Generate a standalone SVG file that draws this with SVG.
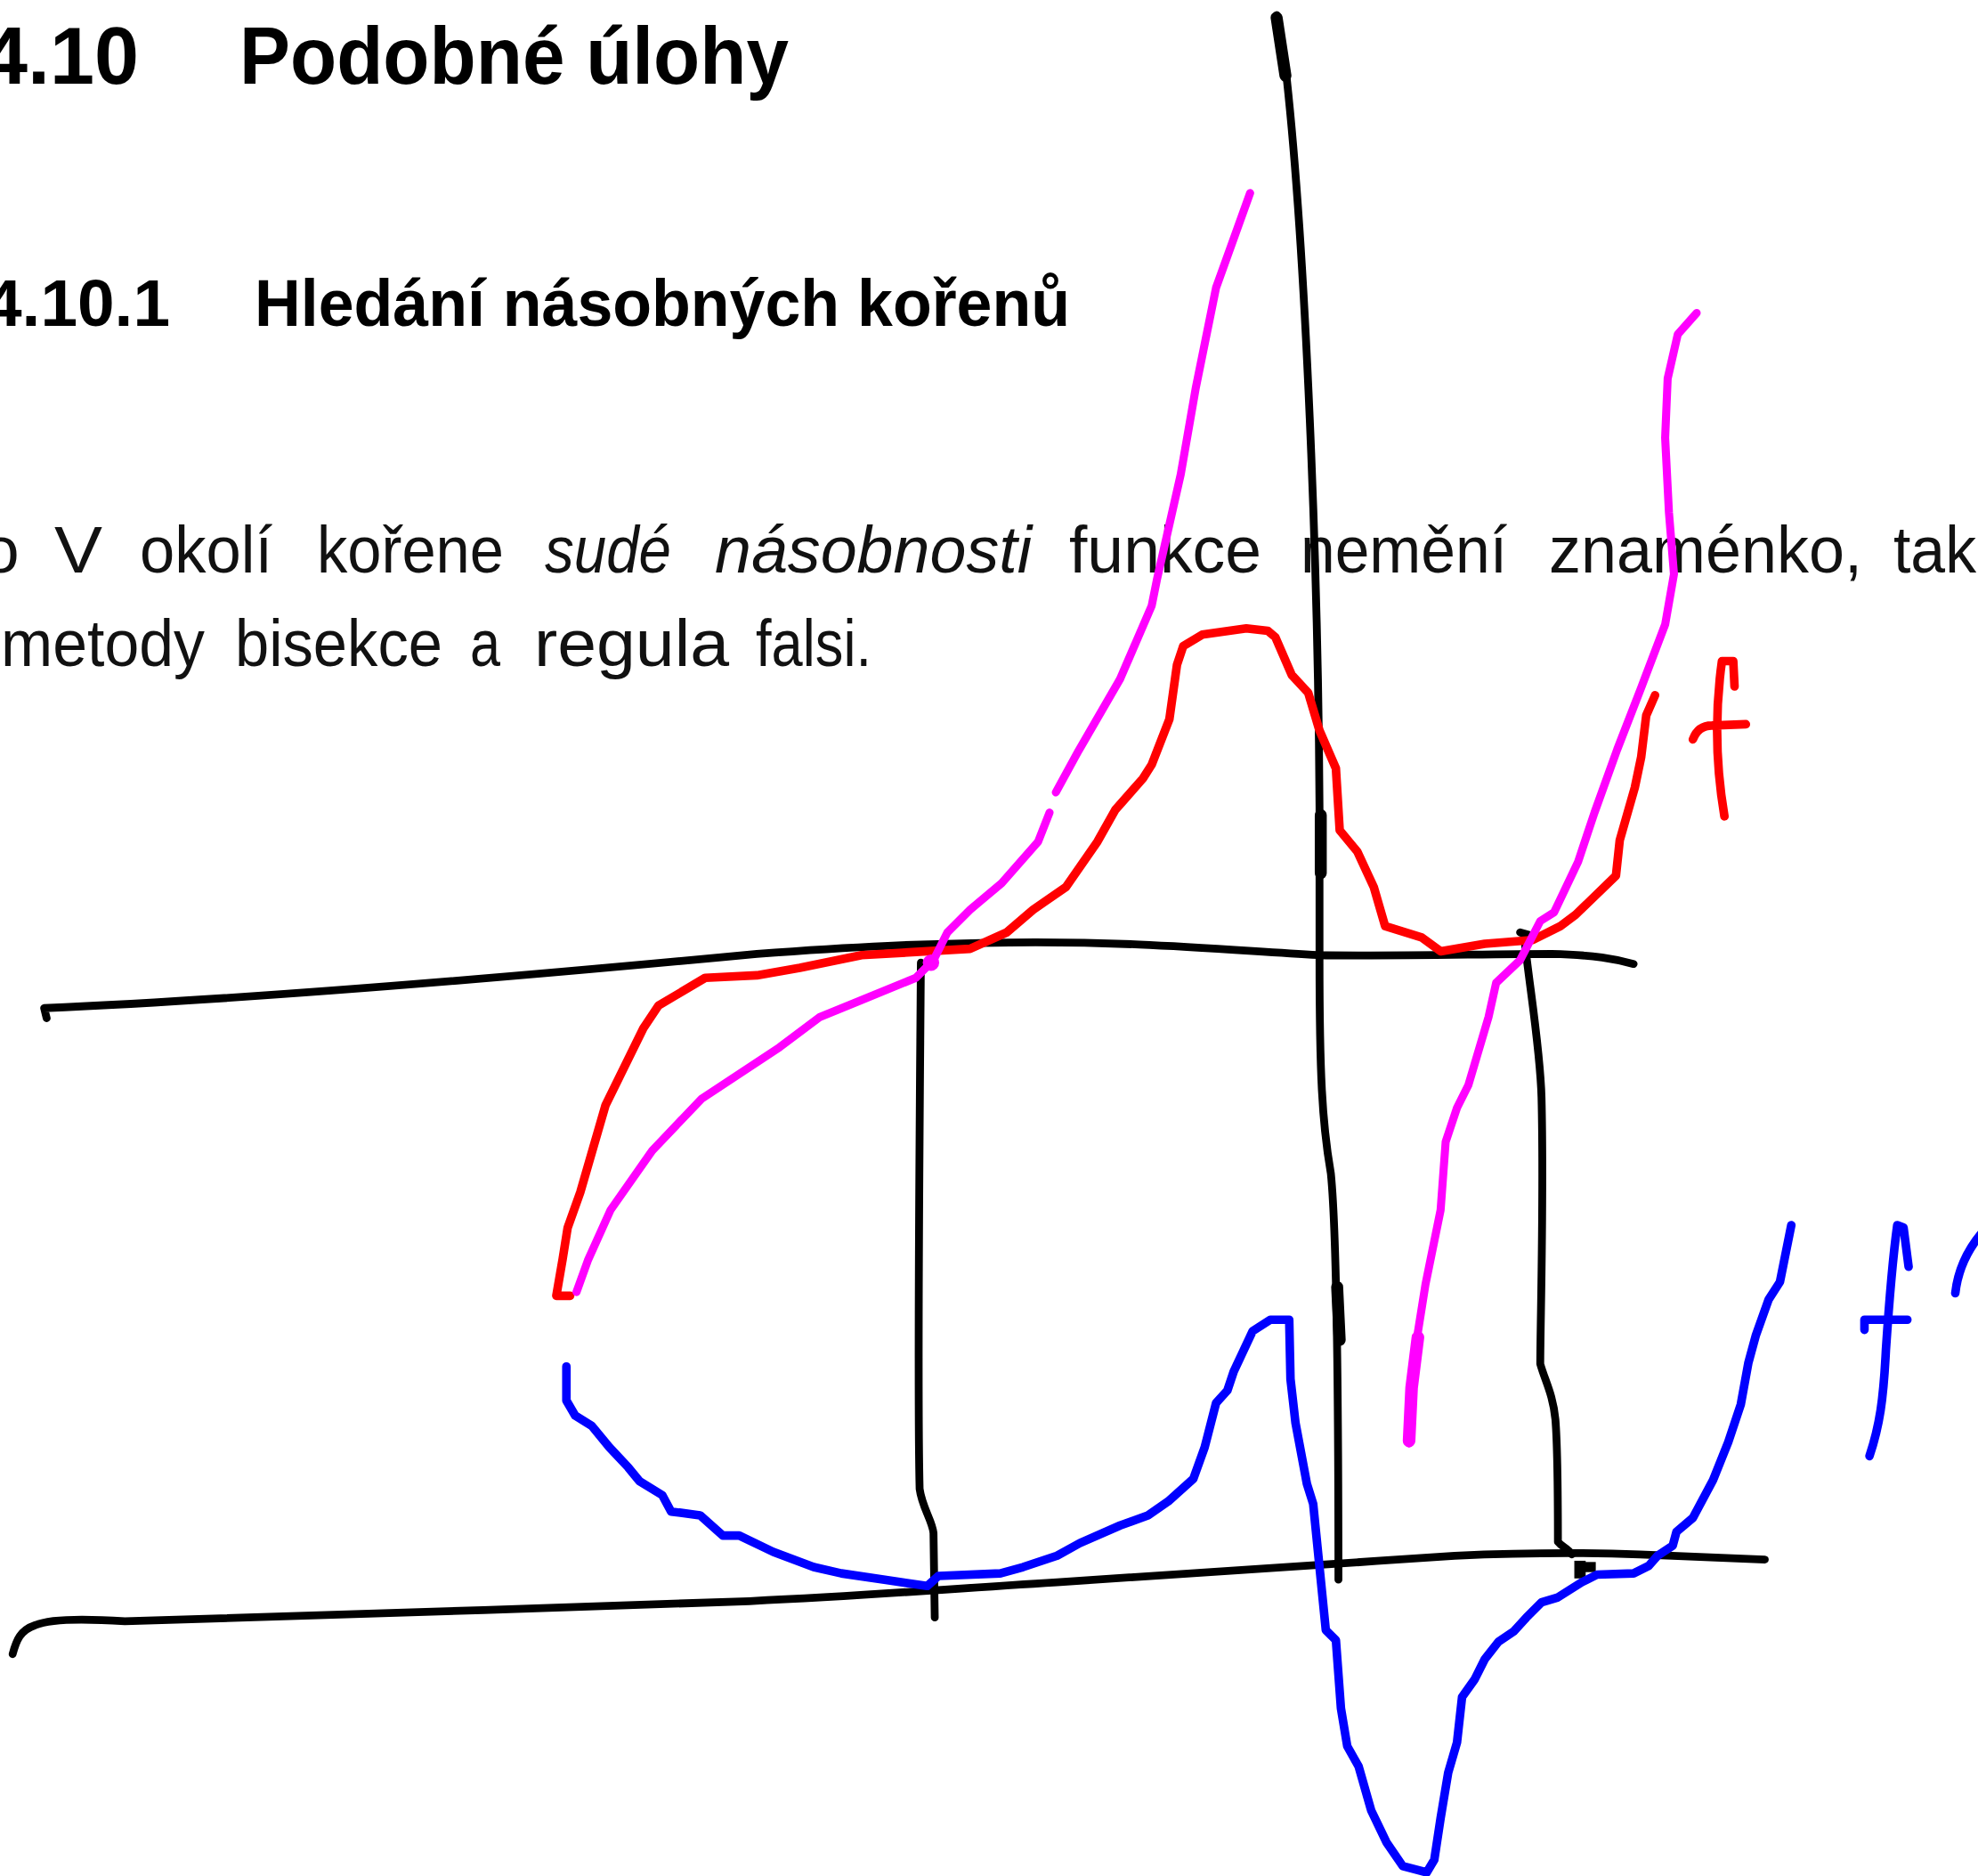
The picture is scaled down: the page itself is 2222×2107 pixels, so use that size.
<svg xmlns="http://www.w3.org/2000/svg" width="2222" height="2107" viewBox="0 0 2222 2107">
<style>
.h{font-family:"Liberation Sans",Arial,sans-serif;font-weight:bold;fill:#000}
.p{font-family:"Liberation Sans",Arial,sans-serif;font-size:75px;fill:#111}
.i{font-style:italic}
.ink{fill:none;stroke-linecap:round;stroke-linejoin:round}
.k{stroke:#000;stroke-width:6.2px}
.r{stroke:#ff0000;stroke-width:6.8px}
.m{stroke:#ff00ff;stroke-width:6.4px}
.b{stroke:#0000ff;stroke-width:6.8px}
.kt{stroke:#000;stroke-width:9.5px}
.mt{stroke:#ff00ff;stroke-width:10px}
</style>
<rect width="2222" height="2107" fill="#fff"/>
<g id="text">
<text class="h" x="-19" y="94" font-size="90" textLength="175" lengthAdjust="spacingAndGlyphs">4.10</text>
<text class="h" x="269" y="94" font-size="90" textLength="617" lengthAdjust="spacingAndGlyphs">Podobné úlohy</text>
<text class="h" x="-17" y="366" font-size="75" textLength="208" lengthAdjust="spacingAndGlyphs">4.10.1</text>
<text class="h" x="286" y="366" font-size="75" textLength="916" lengthAdjust="spacingAndGlyphs">Hledání násobných kořenů</text>
<text class="p" x="-20" y="643">o</text>
<text class="p" x="61" y="643" textLength="54" lengthAdjust="spacingAndGlyphs">V</text>
<text class="p" x="157" y="643" textLength="149" lengthAdjust="spacingAndGlyphs">okolí</text>
<text class="p" x="356" y="643" textLength="210" lengthAdjust="spacingAndGlyphs">kořene</text>
<text class="p i" x="612" y="643" textLength="142" lengthAdjust="spacingAndGlyphs">sudé</text>
<text class="p i" x="803" y="643" textLength="356" lengthAdjust="spacingAndGlyphs">násobnosti</text>
<text class="p" x="1201" y="643" textLength="216" lengthAdjust="spacingAndGlyphs">funkce</text>
<text class="p" x="1461" y="643" textLength="232" lengthAdjust="spacingAndGlyphs">nemění</text>
<text class="p" x="1740" y="643" textLength="352" lengthAdjust="spacingAndGlyphs">znaménko,</text>
<text class="p" x="2127" y="643" textLength="93" lengthAdjust="spacingAndGlyphs">tak</text>
<text class="p" x="1" y="748" textLength="229" lengthAdjust="spacingAndGlyphs">metody</text>
<text class="p" x="264" y="748" textLength="233" lengthAdjust="spacingAndGlyphs">bisekce</text>
<text class="p" x="528" y="748" textLength="34" lengthAdjust="spacingAndGlyphs">a</text>
<text class="p" x="600" y="748" textLength="219" lengthAdjust="spacingAndGlyphs">regula</text>
<text class="p" x="849" y="748" textLength="130" lengthAdjust="spacingAndGlyphs">falsi.</text>
</g>
<g id="sketch" transform="scale(1.41709)">
<g id="axes">
<path class="ink k" d="M37,807 L35,799 C200,792 400,775 600,756 C680,750 730,748 800,747 C900,746 960,752 1045,757 C1100,758 1180,756 1230,756 C1265,757 1280,760 1295,764"/>
<path class="ink k" d="M10,1311 C13,1300 16,1292 28,1288 C40,1283 70,1283 99,1285 C200,1281 446,1275 594,1269 C700,1264 740,1260 838,1254 C950,1247 1050,1240 1153,1233 C1200,1231 1247,1230 1300,1232 L1399,1236"/>
<path class="ink k" d="M1012,12 L1020,62 C1035,200 1045,450 1046,640 L1046,760 C1046,850 1048,890 1055,930 C1060,980 1061,1100 1061,1252"/>
<path class="ink kt" d="M1012,14 L1019,60 M1047,646 L1047,692 M1060,1020 L1062,1062"/>
<path class="ink k" d="M730,763 C729,900 727,1100 729,1180 C731,1195 739,1205 740,1215 L741,1282"/>
<path class="ink k" d="M1205,739 L1212,741 M1208,740 C1212,780 1221,830 1222,870 C1224,950 1221,1050 1221,1081 C1225,1095 1231,1105 1233,1125 C1235,1150 1235,1200 1235,1222 C1238,1226 1243,1227 1246,1232"/>
<rect x="1248" y="1237" width="9" height="14" fill="#000"/>
<rect x="1256" y="1238" width="9" height="8" fill="#000"/>
</g>
<g id="f">
<path class="ink r" d="M452,1027 L441,1027 L446,998 L450,973 L460,945 L480,876 L510,815 L522,797 L559,775 L600,773 L634,767 L683,757 L769,752 L798,739 L819,721 L845,703 L870,667 L884,642 L906,617 L913,606 L927,570 L933,527 L938,512 L953,503 L988,498 L1005,500 L1011,505 L1024,535 L1037,549 L1046,579 L1059,609 L1062,658 L1076,675 L1089,703 L1098,734 L1127,743 L1142,754 L1177,748 L1215,745 L1237,734 L1249,725 L1281,694 L1284,666 L1296,624 L1301,600 L1305,567 L1312,551"/>
<path class="ink r" d="M1365,524 C1360,560 1359,600 1367,647 M1365,524 L1374,524 L1375,544 M1342,586 C1345,578 1350,575 1357,575 L1384,574"/>
</g>
<g id="magenta">
<path class="ink m" d="M457,1024 L466,999 L484,959 L517,912 L556,871 L618,830 L650,806 L682,793 L726,775 L740,761 L751,739 L769,721 L794,700 L823,667 L832,644"/>
<circle cx="738" cy="763" r="6.5" fill="#ff00ff"/>
<path class="ink m" d="M837,628 L855,595 L888,538 L913,480 L917,460 L936,376 L948,307 L964,228 L991,153"/>
<path class="ink m" d="M1345,248 L1330,265 L1322,300 L1320,347 L1323,406 L1327,455 L1320,495 L1301,545 L1282,594 L1264,644 L1251,683 L1232,723 L1221,730 L1205,761 L1186,779 L1180,806 L1164,860 L1155,878 L1146,905 L1142,959 L1130,1018 L1123,1062 L1117,1144"/>
<path class="ink mt" d="M1124,1060 L1119,1100 L1117,1142"/>
</g>
<g id="fprime">
<path class="ink b" d="M449,1083 L449,1110 L456,1122 L469,1130 L483,1147 L498,1163 L507,1174 L525,1185 L532,1198 L555,1201 L573,1217 L586,1217 L613,1230 L645,1242 L667,1247 L735,1257 L744,1249 L793,1247 L811,1242 L838,1233 L856,1223 L888,1209 L910,1201 L926,1190 L946,1172 L955,1147 L964,1112 L973,1102 L978,1087 L993,1055 L1007,1046 L1022,1046 L1023,1093 L1027,1128 L1036,1176 L1041,1192 L1051,1292 L1059,1300 L1063,1354 L1068,1384 L1077,1400 L1087,1435 L1099,1460 L1112,1479 L1131,1484 L1137,1474 L1142,1441 L1148,1405 L1155,1381 L1159,1345 L1169,1331 L1177,1315 L1188,1301 L1200,1293 L1210,1282 L1222,1270 L1235,1266 L1254,1254 L1266,1248 L1295,1247 L1307,1241 L1314,1233 L1326,1225 L1329,1214 L1342,1203 L1358,1173 L1370,1143 L1380,1113 L1386,1080 L1392,1058 L1402,1030 L1411,1016 L1420,971"/>
<path class="ink b" d="M1504,971 C1500,1000 1497,1040 1495,1070 C1493,1110 1490,1130 1482,1154 M1504,971 L1509,973 L1513,1004 M1478,1054 L1478,1046 L1512,1046 M1550,1025 Q1553,998 1572,976"/>
</g>
</g>
</svg>
